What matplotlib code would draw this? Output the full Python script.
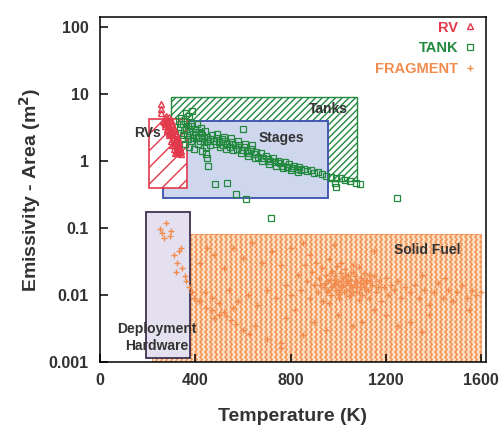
import numpy as np
import matplotlib
matplotlib.use("Agg")
import matplotlib.pyplot as plt
from matplotlib.patches import Rectangle
from matplotlib.collections import LineCollection

plt.rcParams["font.family"] = ["Liberation Sans", "DejaVu Sans"]
plt.rcParams["font.weight"] = "bold"
plt.rcParams["hatch.linewidth"] = 1.0

# scatter data: (temperature K, emissivity-area m^2)
rv_points = [
    (254, 7.1), (254, 6.0), (254, 5.1),
    (272, 4.4), (281, 4.2), (289, 4.5), (298, 4.1), (266, 4.0), (276, 4.6),
    (268, 3.8), (277, 3.9), (286, 3.7), (294, 3.9), (303, 3.6), (272, 3.5),
    (274, 3.3), (284, 3.4), (291, 3.2), (301, 3.3), (309, 3.1), (280, 3.0),
    (282, 2.8), (293, 2.9), (301, 2.7), (313, 2.8), (321, 2.6), (288, 2.65),
    (288, 2.4), (297, 2.5), (309, 2.3), (317, 2.4), (326, 2.2), (303, 2.45),
    (296, 2.0), (305, 2.1), (314, 1.95), (324, 2.0), (331, 1.9), (319, 2.15),
    (301, 1.75), (311, 1.7), (322, 1.75), (333, 1.65), (316, 1.85), (327, 1.8),
    (309, 1.5), (318, 1.45), (329, 1.5), (338, 1.4), (323, 1.6), (334, 1.55),
    (316, 1.3), (329, 1.3), (340, 1.28), (322, 1.38), (335, 1.35),
]

tank_points = [
    (330, 3.9), (335, 3.2), (338, 2.6), (342, 4.3), (345, 2.1), (348, 3.6),
    (352, 2.9), (355, 1.8), (358, 4.0), (362, 5.2), (365, 2.4), (368, 3.3),
    (372, 1.6), (375, 4.6), (378, 2.8), (382, 2.0), (385, 3.7), (388, 5.5),
    (392, 2.5), (395, 1.5), (398, 3.0), (402, 2.2), (405, 3.5), (410, 1.8),
    (414, 2.7), (418, 2.0), (422, 3.1), (426, 1.4), (430, 2.4), (435, 1.9),
    (440, 2.8), (445, 1.6), (450, 2.3), (455, 2.0), (460, 1.7),
    (340, 3.5), (350, 2.4), (360, 3.0), (370, 2.1), (380, 3.3), (390, 2.2),
    (400, 2.7), (412, 2.3), (424, 2.6), (436, 2.2), (448, 2.0), (462, 2.1),
    (470, 2.4), (478, 2.0), (485, 1.8), (492, 2.2), (500, 1.9), (510, 2.1),
    (518, 1.7), (525, 2.0), (535, 1.8), (545, 1.6), (555, 1.9), (565, 1.7),
    (575, 1.5), (585, 1.7), (595, 1.45), (605, 1.6), (615, 1.4), (625, 1.3),
    (635, 1.5), (645, 1.25), (655, 1.35), (665, 1.15), (675, 1.3), (685, 1.1),
    (695, 1.2), (705, 1.05), (715, 1.0), (725, 1.12), (735, 0.95), (745, 1.0),
    (755, 0.92), (765, 0.85), (775, 0.95), (785, 0.82), (795, 0.9), (805, 0.78),
    (815, 0.85), (825, 0.75), (835, 0.8), (845, 0.72), (855, 0.76), (870, 0.7),
    (885, 0.72), (900, 0.66), (915, 0.68), (930, 0.63), (950, 0.6), (970, 0.58),
    (990, 0.55), (1010, 0.56), (1030, 0.52), (1050, 0.5), (1075, 0.47), (1090, 0.45),
    (505, 1.6), (530, 1.5), (560, 1.45), (590, 1.3), (620, 1.2), (650, 1.1),
    (680, 1.0), (710, 0.9), (740, 0.85), (770, 0.78), (800, 0.72), (830, 0.68),
    (490, 2.5), (520, 2.3), (550, 2.2), (580, 2.0), (610, 1.8), (640, 1.7),
    (483, 0.45), (533, 0.47), (570, 0.32), (612, 0.27), (716, 0.14), (600, 3.0),
    (987, 0.47), (992, 0.41), (1246, 0.28), (450, 1.1), (455, 0.85), (446, 1.25),
]

fragment_points = [
    # deployment hardware region
    (278, 0.12), (250, 0.095), (262, 0.085), (292, 0.075), (300, 0.09), (270, 0.07),
    (333, 0.045), (340, 0.05), (310, 0.04), (325, 0.03), (320, 0.022), (345, 0.025),
    (362, 0.016), (355, 0.019), (388, 0.011), (375, 0.013), (395, 0.009),
    # chain down to the right
    (420, 0.008), (445, 0.0064), (470, 0.006), (500, 0.005), (528, 0.0049),
    (550, 0.0042), (570, 0.0037), (600, 0.003), (625, 0.0026), (650, 0.0035),
    (700, 0.0022), (758, 0.0019), (760, 0.0016),
    # main cluster
    (830, 0.02), (845, 0.012), (860, 0.028), (870, 0.016), (880, 0.009), (890, 0.022),
    (900, 0.014), (905, 0.03), (915, 0.011), (920, 0.018), (930, 0.025), (935, 0.008),
    (945, 0.015), (950, 0.02), (955, 0.012), (960, 0.034), (965, 0.017), (970, 0.01),
    (975, 0.023), (980, 0.014), (985, 0.019), (990, 0.012), (995, 0.027), (1000, 0.016),
    (1005, 0.009), (1010, 0.021), (1015, 0.013), (1020, 0.018), (1025, 0.011),
    (1030, 0.024), (1035, 0.015), (1040, 0.02), (1045, 0.012), (1050, 0.017),
    (1055, 0.01), (1060, 0.022), (1065, 0.014), (1070, 0.019), (1075, 0.011),
    (1080, 0.016), (1085, 0.026), (1090, 0.013), (1095, 0.018), (1100, 0.01),
    (1105, 0.015), (1110, 0.021), (1115, 0.012), (1120, 0.017), (1130, 0.009),
    (1140, 0.014), (1150, 0.019), (1160, 0.011), (1170, 0.016), (1180, 0.008),
    (1190, 0.013), (1200, 0.018), (1210, 0.01), (1220, 0.014), (1235, 0.012),
    (1250, 0.016), (1265, 0.009), (1280, 0.013), (1300, 0.011),
    (940, 0.013), (958, 0.016), (972, 0.013), (988, 0.015), (1002, 0.012),
    (1018, 0.014), (1032, 0.012), (1048, 0.014), (1062, 0.011), (1078, 0.013),
    (1092, 0.015), (1108, 0.013), (1125, 0.012), (1045, 0.0095), (1000, 0.0105),
    (1085, 0.0085), (960, 0.0075), (1130, 0.02), (1010, 0.03), (1060, 0.028),
    (925, 0.014), (952, 0.011), (968, 0.021), (982, 0.017), (997, 0.014),
    (1012, 0.016), (1027, 0.019), (1042, 0.016), (1057, 0.013), (1072, 0.016),
    (1088, 0.011), (1102, 0.017), (1118, 0.015), (1135, 0.016), (1165, 0.013),
    # right tail
    (1320, 0.014), (1340, 0.009), (1360, 0.012), (1380, 0.007), (1400, 0.011),
    (1420, 0.015), (1440, 0.009), (1460, 0.012), (1480, 0.008), (1500, 0.011),
    (1520, 0.014), (1540, 0.009), (1560, 0.012), (1580, 0.01), (1600, 0.011),
    (1350, 0.02), (1450, 0.018), (1380, 0.005), (1550, 0.006),
    # upper scatter
    (420, 0.03), (450, 0.05), (480, 0.04), (520, 0.025), (560, 0.05), (600, 0.035),
    (640, 0.06), (680, 0.03), (720, 0.045), (760, 0.028), (800, 0.05), (850, 0.06),
    (880, 0.04), (1150, 0.045), (1250, 0.05), (980, 0.055),
    # lower scatter
    (780, 0.0045), (820, 0.006), (850, 0.0025), (900, 0.004), (950, 0.003),
    (1000, 0.005), (1060, 0.0035), (1100, 0.004), (1150, 0.006), (1200, 0.005),
    (1250, 0.0035), (1300, 0.004), (1350, 0.0028),
    # middle 400-800
    (417, 0.0082), (440, 0.011), (470, 0.009), (500, 0.0075), (540, 0.012),
    (580, 0.008), (620, 0.01), (660, 0.007), (700, 0.012), (740, 0.009),
    (780, 0.014), (800, 0.01), (520, 0.0055), (560, 0.0065), (480, 0.0045),
]

# regions: (T min, T max, value min, value max)
tanks_box = (300, 1080, 0.5, 9.0)
stages_box = (265, 955, 0.28, 4.0)
rvs_box = (205, 367, 0.4, 4.2)
deploy_box = (195, 378, 0.00115, 0.17)
solid_box = (220, 1600, 0.001, 0.08)

x_ticks = [0, 400, 800, 1200, 1600]
y_ticks = [0.001, 0.01, 0.1, 1, 10, 100]
y_ticklabels = ["0.001", "0.01", "0.1", "1", "10", "100"]

RED = "#e23a4c"
GREEN = "#23893f"
ORANGE = "#f28c4e"
TXT = "#333333"

fig = plt.figure(figsize=(5.03, 4.38), dpi=100)
ax = fig.add_axes([100 / 503, 1 - 362 / 438, 386 / 503, 345 / 438])
ax.set_yscale("log")
ax.set_xlim(0, 1620)
ax.set_ylim(0.001, 140)


def box(b, **kw):
    x0, x1, y0, y1 = b
    r = Rectangle((x0, y0), x1 - x0, y1 - y0, **kw)
    ax.add_patch(r)
    return r


# solid fuel: peach fill with a wavy vertical texture
sf = box(solid_box, facecolor="#fbe0c6", edgecolor="#f4a36e", lw=0.8, zorder=1)
segs = []
ys = np.arange(0, 1, 2.5 / 345)
wiggle = np.where(np.arange(len(ys)) % 2 == 0, 0, 2.2 / 386)
for xc in np.arange(0, 1, 5.0 / 386):
    segs.append(np.column_stack([xc + wiggle, ys]))
lc = LineCollection(segs, colors="#f29050", linewidths=1.1, transform=ax.transAxes, zorder=1.1)
ax.add_collection(lc)
lc.set_clip_path(sf)

box(deploy_box, facecolor="#e4e0ef", edgecolor="#3f3150", lw=1.3, zorder=2)
box(tanks_box, facecolor="white", edgecolor=GREEN, hatch="/////", lw=1.0, zorder=2)
box(stages_box, facecolor="#cfd7ee", edgecolor="#3b4fae", lw=1.3, zorder=3)
box(rvs_box, facecolor="white", edgecolor=RED, hatch="//", lw=1.2, zorder=4)

tx, tv = zip(*tank_points)
ax.plot(tx, tv, ls="none", marker="s", ms=4.2, mfc="none", mec=GREEN, mew=0.9, zorder=5, label="TANK")
rx, rvv = zip(*rv_points)
ax.plot(rx, rvv, ls="none", marker="^", ms=4.5, mfc="none", mec=RED, mew=1.0, zorder=6, label="RV")
fx, fv = zip(*fragment_points)
ax.plot(fx, fv, ls="none", marker="+", ms=4.5, mec=ORANGE, mew=1.0, zorder=5, label="FRAGMENT")

# region labels
lab = dict(fontsize=10, fontweight="bold", color=TXT, zorder=8)
ax.text(960, 6.0, "Tanks", ha="center", va="center", **lab)
ax.text(760, 2.2, "Stages", ha="center", va="center", **lab)
ax.text(200, 2.6, "RVs", ha="center", va="center", **lab)
ax.text(1375, 0.047, "Solid Fuel", ha="center", va="center", **lab)
ax.text(237, 0.0023, "Deployment\nHardware", ha="center", va="center", linespacing=1.3, **lab)

handles, labels = ax.get_legend_handles_labels()
order = [1, 0, 2]
ax.legend([handles[i] for i in order], [labels[i] for i in order],
          loc="upper right", bbox_to_anchor=(1.0, 1.015), frameon=False, markerfirst=False,
          prop={"weight": "bold", "size": 10.5}, handletextpad=0.3,
          handlelength=1.0, labelspacing=0.45, borderaxespad=0.2,
          labelcolor=[RED, GREEN, ORANGE])

ax.set_xticks(x_ticks)
ax.set_yticks(y_ticks)
ax.set_yticklabels(y_ticklabels)
ax.minorticks_off()
ax.tick_params(direction="in", length=6, width=1.1, labelsize=11.5, labelcolor=TXT, pad=8)
for s in ax.spines.values():
    s.set_linewidth(1.1)
    s.set_zorder(9)

ax.set_xlabel("Temperature (K)", fontsize=14, fontweight="bold", color=TXT, labelpad=14)
ax.set_ylabel("Emissivity - Area (m$^2$)", fontsize=14, fontweight="bold", color=TXT, labelpad=4)

fig.savefig("out.png", dpi=100)
